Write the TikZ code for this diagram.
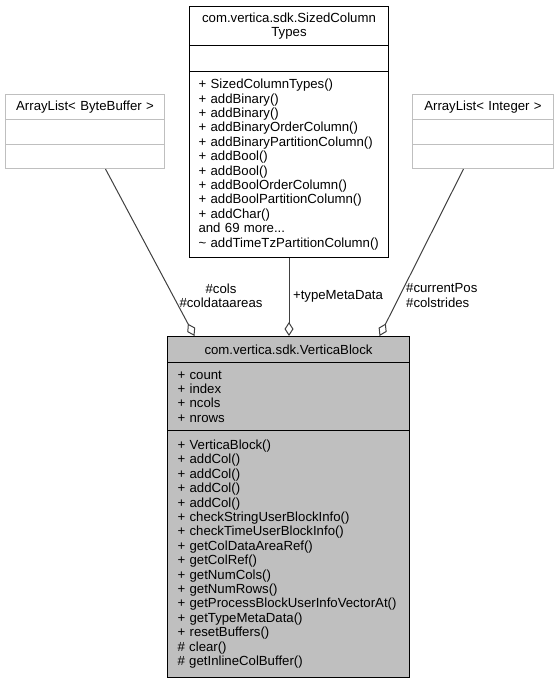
\documentclass[tikz,border=0pt]{standalone}
\usepackage{fontspec}
\setmainfont{Liberation Sans}
\usetikzlibrary{arrows.meta}
\definecolor{edgegrey}{gray}{0.25}
\definecolor{boxgrey}{gray}{0.75}

\begin{document}
\begin{tikzpicture}[x=1pt, y=-1pt,
    font=\fontsize{13.2}{14.4}\selectfont,
    part/.style={draw, line width=1pt, anchor=north west, inner xsep=0pt, inner ysep=0pt},
    lbl/.style={inner sep=0pt, text=black},
    aggr/.style={draw=edgegrey, line width=1pt, -{Diamond[fill=white, length=14pt, width=9pt]}}]

    \useasboundingbox (0,0) rectangle (557,683);

    % used class
    \node[part, minimum height=39pt, text width=181pt, inner xsep=9pt, align=center] (sizedT) at (189,6) {com.vertica.sdk.SizedColumn\\Types};
    \node[part, minimum height=26pt, minimum width=199pt] (sizedA) at (189,45) {};
    \node[part, minimum height=186pt, text width=181pt, inner xsep=9pt, align=left] (sizedM) at (189,71) {+ SizedColumnTypes()\\+ addBinary()\\+ addBinary()\\+ addBinaryOrderColumn()\\+ addBinaryPartitionColumn()\\+ addBool()\\+ addBool()\\+ addBoolOrderColumn()\\+ addBoolPartitionColumn()\\+ addChar()\\and 69 more...\\\textasciitilde{} addTimeTzPartitionColumn()};

    \node[part, draw=boxgrey, minimum height=25pt, text width=149pt, inner xsep=5pt, align=center] (bytebufT) at (5,94) {ArrayList< ByteBuffer >};
    \node[part, draw=boxgrey, minimum height=25pt, minimum width=159pt] (bytebufA) at (5,119) {};
    \node[part, draw=boxgrey, minimum height=24pt, minimum width=159pt] (bytebufM) at (5,144) {};

    \node[part, draw=boxgrey, minimum height=25pt, text width=131pt, inner xsep=5pt, align=center] (intlistT) at (412,94) {ArrayList< Integer >};
    \node[part, draw=boxgrey, minimum height=25pt, minimum width=141pt] (intlistA) at (412,119) {};
    \node[part, draw=boxgrey, minimum height=24pt, minimum width=141pt] (intlistM) at (412,144) {};

    % the block
    \node[part, fill=boxgrey, minimum height=26pt, text width=222pt, inner xsep=10pt, align=center] (vblockT) at (167,336) {com.vertica.sdk.VerticaBlock};
    \node[part, fill=boxgrey, minimum height=68pt, text width=222pt, inner xsep=10pt, align=left] (vblockA) at (167,362) {+ count\\+ index\\+ ncols\\+ nrows};
    \node[part, fill=boxgrey, minimum height=247pt, text width=222pt, inner xsep=10pt, align=left] (vblockM) at (167,430) {+ VerticaBlock()\\+ addCol()\\+ addCol()\\+ addCol()\\+ addCol()\\+ checkStringUserBlockInfo()\\+ checkTimeUserBlockInfo()\\+ getColDataAreaRef()\\+ getColRef()\\+ getNumCols()\\+ getNumRows()\\+ getProcessBlockUserInfoVectorAt()\\+ getTypeMetaData()\\+ resetBuffers()\\\# clear()\\\# getInlineColBuffer()};

    \draw[aggr] ([xshift=20.5pt]bytebufM.south) -- ([xshift=-94pt]vblockT.north);
    \draw[aggr] (sizedM.south) -- (sizedM.south |- vblockT.north);
    \draw[aggr] ([xshift=-19.5pt]intlistM.south) -- ([xshift=91pt]vblockT.north);

    \node[lbl, align=center] (colsLbl) at (221,295.5) {\#cols\\\#coldataareas};
    \node[lbl] (metaLbl) at (338,296) {+typeMetaData};
    \node[lbl, align=left, anchor=west] (posLbl) at (406,295.5) {\#currentPos\\\#colstrides};

\end{tikzpicture}
\end{document}
